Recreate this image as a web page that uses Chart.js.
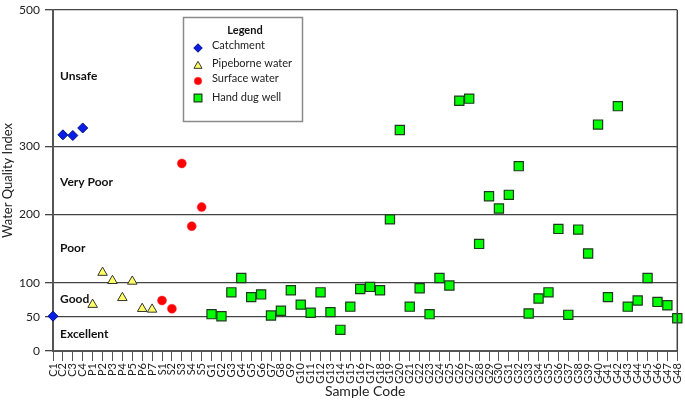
<!DOCTYPE html>
<html>
<head>
<meta charset="utf-8">
<script src="https://cdn.jsdelivr.net/npm/chart.js@4/dist/chart.umd.min.js"></script>
<style>
html,body{margin:0;padding:0;background:#fff;}
#wrap{width:685px;height:402px;}
</style>
</head>
<body>
<div id="wrap"><canvas id="wqiChart"></canvas></div>
<script>
// sample codes and water quality index per source
const catchCodes = ["C1","C2","C3","C4"];
const catchValues = [51,317,316,327];

const pipeCodes = ["P1","P2","P3","P4","P5","P6","P7"];
const pipeValues = [68,115,103,78,102,62,61];

const surfCodes = ["S1","S2","S3","S4","S5"];
const surfValues = [74,62,275,183,211];

const wellCodes = [
"G1","G2","G3","G4","G5","G6","G7","G8","G9","G10",
"G11","G12","G13","G14","G15","G16","G17","G18","G19","G20",
"G21","G22","G23","G24","G25","G26","G27","G28","G29","G30",
"G31","G32","G33","G34","G35","G36","G37","G38","G39","G40",
"G41","G42","G43","G44","G45","G46","G47","G48"
];
const wellValues = [
54,51,86,107,79,83,52,59,89,68,
56,86,57,31,65,91,94,89,193,324,
65,92,54,107,96,367,370,157,227,209,
229,271,55,77,86,179,53,178,143,332,
79,359,65,74,107,72,67,48
];

const yTicks = [0,50,100,200,300,500];
const classNames = ["Unsafe","Very Poor","Poor","Good","Excellent"];
const seriesNames = ["Catchment","Pipeborne water","Surface water","Hand dug well"];

const allCodes = [...catchCodes, ...pipeCodes, ...surfCodes, ...wellCodes];

function pts(codes, vals){
  return codes.map((c,i) => ({x:c, y:vals[i]}));
}

Chart.defaults.font.family = "Lato, 'Open Sans', sans-serif";
Chart.defaults.color = "#222";

const styles = [
  {pointStyle:"rectRot", radius:5, bg:"#0a1ee6", border:"#00107a", bw:1},
  {pointStyle:"triangle", radius:5.5, bg:"#ffff66", border:"#333", bw:1},
  {pointStyle:"circle", radius:4.5, bg:"#ff0000", border:"#ff3344", bw:0.5},
  {pointStyle:"rect", radius:6.5, bg:"#00ff00", border:"#1e3a1e", bw:1.2}
];

const seriesData = [
  pts(catchCodes, catchValues),
  pts(pipeCodes, pipeValues),
  pts(surfCodes, surfValues),
  pts(wellCodes, wellValues)
];

const extras = {
  id: "extras",
  afterDraw(chart){
    const ctx = chart.ctx;
    const a = chart.chartArea;
    const y = chart.scales.y;
    ctx.save();
    // right border
    ctx.strokeStyle = "#444";
    ctx.lineWidth = 1.5;
    ctx.beginPath();
    ctx.moveTo(a.right, a.top);
    ctx.lineTo(a.right, a.bottom);
    ctx.stroke();

    // class labels
    const classY = [403, 248, 151, 76, 25];
    ctx.fillStyle = "#111";
    ctx.font = "bold 12px Lato, sans-serif";
    ctx.textBaseline = "middle";
    ctx.textAlign = "left";
    classNames.forEach((n,i) => ctx.fillText(n, a.left + 7, y.getPixelForValue(classY[i])));

    // legend box
    ctx.strokeStyle = "#8a8a8a";
    ctx.lineWidth = 1.5;
    ctx.strokeRect(183.5, 17.5, 119, 104);
    ctx.font = "bold 11px Lato, sans-serif";
    ctx.textAlign = "center";
    ctx.fillStyle = "#111";
    ctx.fillText("Legend", 245, 30);
    ctx.font = "11px Lato, sans-serif";
    ctx.textAlign = "left";
    const rowY = [45, 63, 78, 97];
    const markY = [48, 66, 81, 98];
    seriesNames.forEach((n,i) => {
      const s = styles[i];
      ctx.fillStyle = s.bg;
      ctx.strokeStyle = s.border;
      ctx.lineWidth = s.bw;
      Chart.helpers.drawPoint(ctx, {pointStyle:s.pointStyle, radius:s.radius*0.85, rotation:0, borderWidth:s.bw}, 198, markY[i]);
      ctx.fillStyle = "#222";
      ctx.fillText(n, 212, rowY[i]);
    });
    ctx.restore();
  }
};

new Chart(
  document.getElementById("wqiChart"),
  {
    type: "line",
    data: {
      labels: allCodes,
      datasets: seriesNames.map((n,i) => ({
        label: n,
        data: seriesData[i],
        showLine: false,
        pointStyle: styles[i].pointStyle,
        pointRadius: styles[i].radius,
        pointBackgroundColor: styles[i].bg,
        pointBorderColor: styles[i].border,
        pointBorderWidth: styles[i].bw,
        clip: false
      }))
    },
    options: {
      responsive: true,
      maintainAspectRatio: false,
      animation: false,
      layout: {padding: {left:0, right:5, top:10, bottom:0}},
      plugins: {legend: {display:false}, tooltip: {enabled:false}},
      scales: {
        x: {
          type: "category",
          offset: false,
          grid: {drawOnChartArea:false, drawTicks:true, tickLength:10, color:"#555", lineWidth:1},
          border: {color:"#555", width:2},
          ticks: {autoSkip:false, minRotation:90, maxRotation:90, padding:2, font:{size:11}, color:"#222"},
          title: {display:true, text:"Sample Code", font:{size:14}, color:"#222", padding:{top:0,bottom:2}},
          afterFit(scale){
            scale.height = 51;
            scale.paddingLeft = 0;
            scale.paddingRight = 0;
          }
        },
        y: {
          min: 0,
          max: 500,
          afterBuildTicks(scale){ scale.ticks = yTicks.map(v => ({value:v})); },
          grid: {color:"#444", lineWidth:1.3, tickLength:8},
          border: {color:"#555", width:2},
          ticks: {padding:5, font:{size:12}, color:"#222"},
          title: {display:true, text:"Water Quality Index", font:{size:13}, color:"#222", padding:{top:0,bottom:0}},
          afterFit(scale){
            scale.width = 53;
            scale.paddingTop = 0;
            scale.paddingBottom = 0;
          }
        }
      }
    },
    plugins: [extras]
  }
);
</script>
</body>
</html>
